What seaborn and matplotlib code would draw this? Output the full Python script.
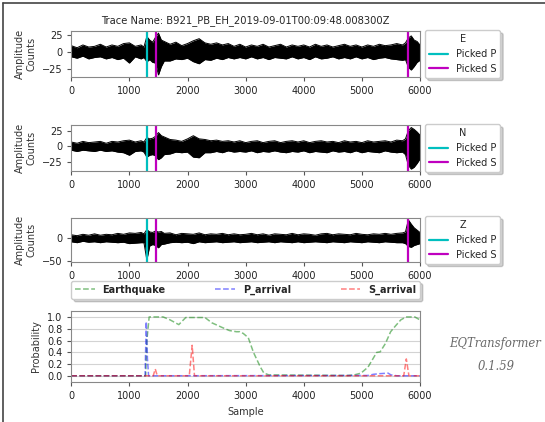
import numpy as np
import pandas as pd
import seaborn as sns
import matplotlib
matplotlib.use("Agg")
import matplotlib.pyplot as plt
from matplotlib.lines import Line2D

# Data
trace_name = "B921_PB_EH_2019-09-01T00:09:48.008300Z"
channels = ["E", "N", "Z"]

# sample positions for the amplitude envelopes
env_samples = [0, 100, 200, 300, 400, 500, 600, 700, 800, 900, 1000, 1100, 1200,
               1250, 1300, 1350, 1400, 1450, 1500, 1550, 1600,
               1700, 1800, 1900, 2000, 2100, 2200, 2300, 2400, 2500, 2600, 2700,
               2800, 2900, 3000, 3100, 3200, 3300, 3400, 3500, 3600, 3700, 3800,
               3900, 4000, 4100, 4200, 4300, 4400, 4500, 4600, 4700, 4800, 4900,
               5000, 5100, 5200, 5300, 5400, 5500, 5600, 5700,
               5750, 5800, 5850, 5900, 5950, 6000]

e_upper = [9, 6, 10, 7, 8, 11, 7, 10, 8, 12, 13, 8, 10,
           7, 22, 17, 14, 21, 27, 17, 15,
           11, 14, 9, 12, 16, 19, 13, 11, 13, 10, 12,
           8, 11, 7, 10, 8, 11, 7, 9, 11, 7, 10,
           8, 10, 7, 11, 8, 10, 7, 9, 11, 8, 10,
           7, 10, 8, 11, 9, 10, 12, 10,
           13, 20, 23, 17, 15, 10]
e_lower = [-7, -9, -6, -10, -8, -7, -10, -8, -11, -9, -16, -7, -10,
           -8, -14, -11, -15, -16, -33, -21, -13,
           -13, -10, -11, -9, -14, -17, -11, -12, -9, -11, -8,
           -10, -8, -10, -7, -10, -8, -11, -8, -9, -10, -7,
           -10, -8, -11, -7, -10, -9, -7, -10, -8, -10, -7,
           -10, -8, -11, -9, -8, -10, -11, -12,
           -11, -22, -26, -21, -15, -12]

n_upper = [7, 5, 8, 6, 7, 8, 5, 8, 7, 9, 10, 7, 9,
           7, 14, 12, 13, 16, 22, 17, 15,
           11, 10, 8, 12, 17, 12, 11, 9, 10, 8, 9,
           7, 9, 6, 8, 9, 6, 8, 9, 6, 8, 9,
           7, 9, 6, 8, 9, 7, 8, 6, 9, 7, 8,
           6, 9, 7, 8, 9, 7, 10, 9,
           12, 25, 30, 27, 23, 18]
n_lower = [-6, -8, -6, -7, -8, -6, -8, -7, -9, -10, -14, -8, -7,
           -9, -17, -14, -13, -15, -21, -18, -13,
           -12, -9, -10, -9, -17, -18, -10, -10, -8, -10, -7,
           -9, -8, -9, -7, -10, -8, -9, -7, -9, -10, -8,
           -9, -7, -10, -8, -9, -10, -7, -9, -8, -10, -7,
           -10, -8, -9, -10, -7, -9, -10, -9,
           -13, -30, -36, -33, -27, -20]

z_upper = [7, 5, 8, 6, 9, 6, 8, 7, 10, 8, 11, 10, 12,
           9, 18, 13, 12, 15, 13, 14, 10,
           11, 7, 10, 9, 8, 11, 7, 9, 8, 10, 7,
           9, 7, 8, 10, 7, 9, 6, 9, 8, 7, 10,
           7, 9, 8, 6, 9, 10, 7, 9, 8, 7, 10,
           8, 7, 9, 8, 10, 8, 10, 11,
           13, 39, 30, 22, 17, 12]
z_lower = [-8, -10, -7, -9, -8, -10, -8, -9, -10, -9, -12, -11, -10,
           -10, -47, -17, -14, -16, -21, -14, -13,
           -10, -9, -10, -9, -12, -8, -10, -9, -8, -10, -9,
           -8, -10, -9, -8, -10, -9, -8, -10, -8, -9, -10,
           -8, -10, -9, -8, -9, -10, -8, -9, -10, -8, -9,
           -10, -8, -9, -10, -8, -9, -10, -10,
           -12, -18, -20, -16, -14, -12]

trace_ylims = {"E": (-36, 30), "N": (-39, 34), "Z": (-51.5, 43)}

# picks (sample index)
picked_p = [1300]
picked_s = [1460, 5790]

# probabilities
eq_samples = [0, 1280, 1300, 1340, 1580, 1700, 1850, 1970, 2300, 2420, 2600,
              2720, 2840, 2900, 2960, 3045, 3135, 3255, 3315, 3400, 4750,
              4870, 4985, 5105, 5195, 5255, 5315, 5405, 5495, 5580, 5670,
              5760, 5910, 6000]
eq_prob = [0.005, 0.005, 0.6, 1.0, 1.0, 0.95, 0.87, 0.99, 0.99, 0.9, 0.82,
           0.77, 0.75, 0.75, 0.72, 0.65, 0.4, 0.15, 0.05, 0.02, 0.01,
           0.02, 0.05, 0.15, 0.3, 0.4, 0.41, 0.55, 0.75, 0.85, 0.95,
           1.0, 1.0, 0.95]

p_samples = [0, 1270, 1290, 1310, 1330, 5100, 5200, 5300, 5450, 5500, 5600, 6000]
p_prob = [0.005, 0.005, 0.92, 0.3, 0.005, 0.01, 0.03, 0.04, 0.05, 0.02, 0.005, 0.005]

s_samples = [0, 1410, 1445, 1480, 2030, 2080, 2120, 5720, 5765, 5810, 6000]
s_prob = [0.005, 0.005, 0.12, 0.005, 0.005, 0.52, 0.005, 0.005, 0.29, 0.005, 0.005]

# Style
sns.set_style("white")
plt.rcParams["font.family"] = ["DejaVu Sans"]
plt.rcParams["font.size"] = 7
plt.rcParams["axes.edgecolor"] = "#888888"
plt.rcParams["xtick.color"] = "#555555"
plt.rcParams["ytick.color"] = "#555555"
plt.rcParams["xtick.labelcolor"] = "#222222"
plt.rcParams["ytick.labelcolor"] = "#222222"
plt.rcParams["xtick.bottom"] = True
plt.rcParams["ytick.left"] = True
plt.rcParams["xtick.major.size"] = 3
plt.rcParams["ytick.major.size"] = 3

fig = plt.figure(figsize=(5.45, 4.22), dpi=100)

left, width = 0.1308, 0.6398
positions = {
    "E": [left, 0.8175, width, 0.109],
    "N": [left, 0.5948, width, 0.109],
    "Z": [left, 0.3791, width, 0.1043],
}
upper = {"E": e_upper, "N": n_upper, "Z": z_upper}
lower = {"E": e_lower, "N": n_lower, "Z": z_lower}
shadow = {"alpha": 0.25}

# Waveform panels
for ch in channels:
    ax = fig.add_axes(positions[ch])
    df = pd.DataFrame({"sample": env_samples, "up": upper[ch], "low": lower[ch]})
    ax.fill_between(df["sample"], df["low"], df["up"], color="k", lw=0)
    sns.lineplot(data=df, x="sample", y="up", color="k", lw=0.7, ax=ax)
    sns.lineplot(data=df, x="sample", y="low", color="k", lw=0.7, ax=ax)
    ymin, ymax = trace_ylims[ch]
    ax.vlines(picked_p, ymin, ymax, color="c", linewidth=1.6)
    ax.vlines(picked_s, ymin, ymax, color="m", linewidth=1.6)
    ax.set_xlim(0, 6000)
    ax.set_ylim(ymin, ymax)
    ax.set_xticks(range(0, 6001, 1000))
    if ch == "Z":
        ax.set_yticks([-50, 0])
    else:
        ax.set_yticks([-25, 0, 25])
    ax.set_xlabel("")
    ax.set_ylabel("Amplitude\nCounts", fontsize=7, color="#333333")
    if ch == "E":
        ax.set_title("Trace Name: " + trace_name, fontsize=7.2, pad=6)
    custom_lines = [Line2D([0], [0], color="c", lw=1.6),
                    Line2D([0], [0], color="m", lw=1.6)]
    ax.legend(custom_lines, ["Picked P", "Picked S"], title=ch,
              loc="center left", bbox_to_anchor=(1, 0.5), fontsize=7,
              title_fontsize=7, fancybox=True, shadow=shadow)

# Probability panel
ax = fig.add_axes([left, 0.0948, width, 0.1682])
sns.lineplot(x=eq_samples, y=eq_prob, color="g", linestyle="--", alpha=0.5,
             lw=1.1, label="Earthquake", ax=ax)
sns.lineplot(x=p_samples, y=p_prob, color="b", linestyle="--", alpha=0.5,
             lw=1.1, label="P_arrival", ax=ax)
sns.lineplot(x=s_samples, y=s_prob, color="r", linestyle="--", alpha=0.5,
             lw=1.1, label="S_arrival", ax=ax)
ax.set_xlim(0, 6000)
ax.set_ylim(-0.1, 1.1)
ax.set_xticks(range(0, 6001, 1000))
ax.set_yticks([0.0, 0.2, 0.4, 0.6, 0.8, 1.0])
ax.yaxis.grid(True, color="lightgray", lw=0.8)
ax.set_axisbelow(True)
ax.set_xlabel("Sample", fontsize=7, color="#333333")
ax.set_ylabel("Probability", fontsize=7, color="#333333")
ax.legend(loc="lower center", bbox_to_anchor=(0., 1.17, 1., .102), ncol=3,
          mode="expand", prop={"weight": "bold", "size": 7}, borderaxespad=0.,
          fancybox=True, shadow=shadow)

font = {"family": "serif", "color": "dimgrey", "style": "italic",
        "weight": "normal", "size": 8.4}
ax.text(6500, 0.5, "EQTransformer", fontdict=font)
ax.text(7000, 0.1, "0.1.59", fontdict=font)

# screenshot border (left and top)
fig.add_artist(Line2D([0.0055, 0.0055], [0, 0.993], transform=fig.transFigure,
                      color="#444444", lw=1.2))
fig.add_artist(Line2D([0.0055, 1], [0.993, 0.993], transform=fig.transFigure,
                      color="#444444", lw=1.2))

plt.savefig("out.png", dpi=100)
